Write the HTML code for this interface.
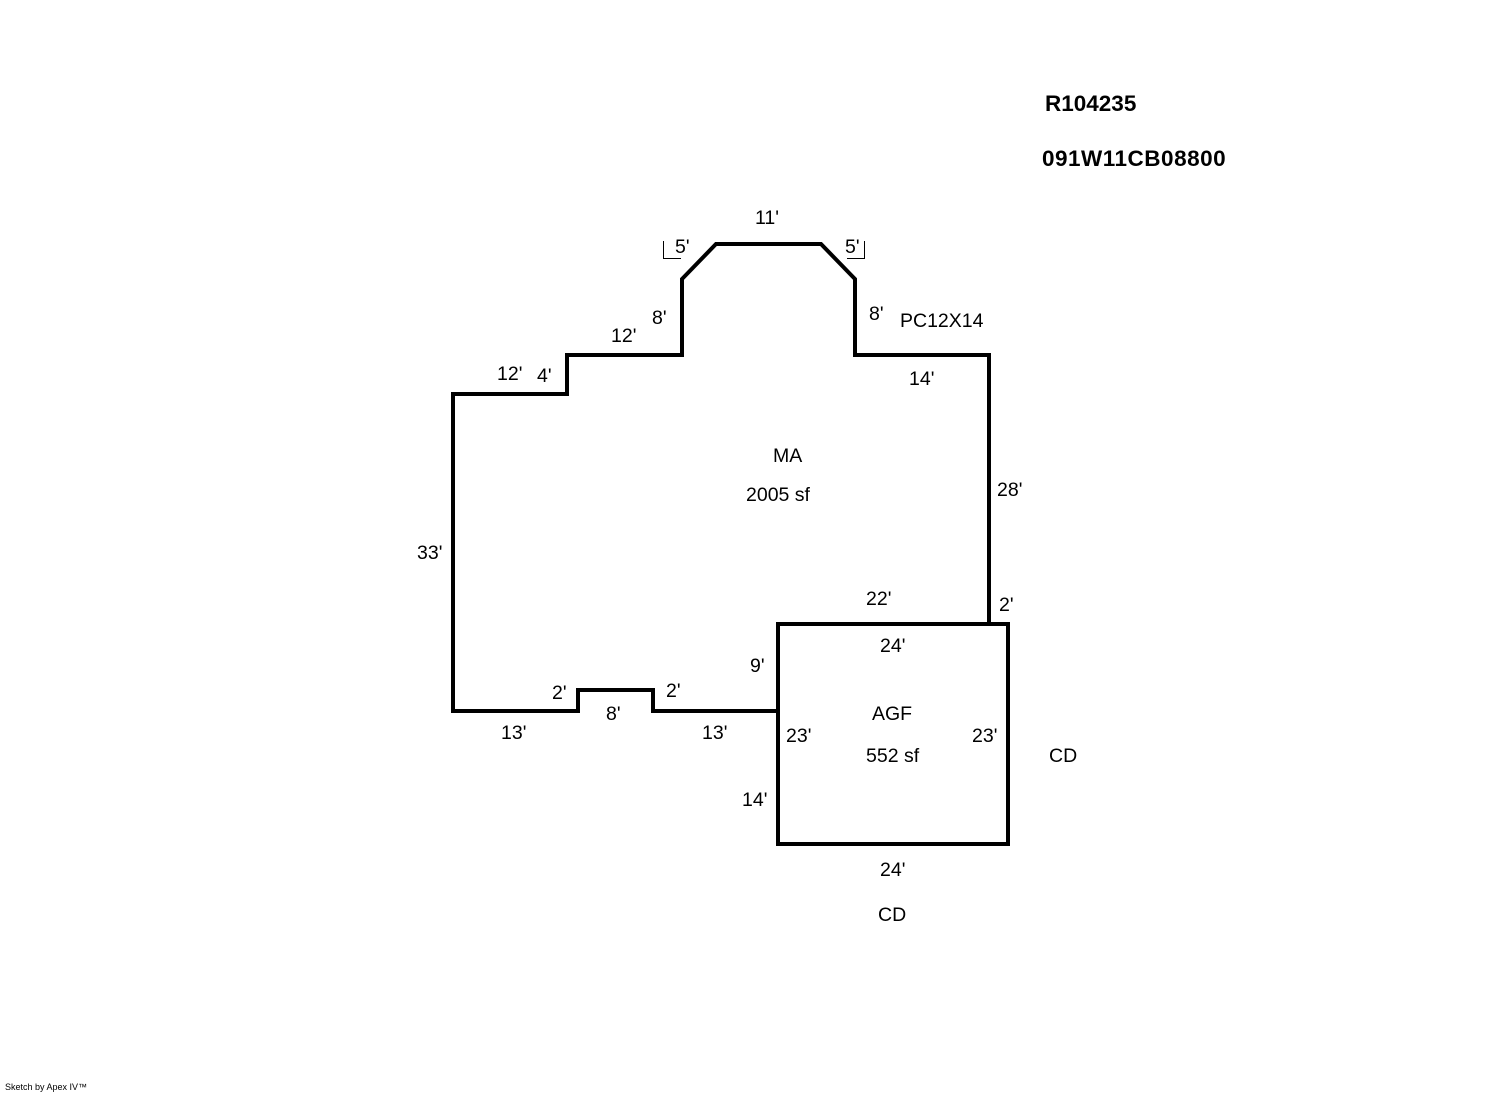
<!DOCTYPE html>
<html><head><style>
body{margin:0;background:#fff}
svg{display:block}
text{font-family:"Liberation Sans",Arial,sans-serif;font-size:19.5px;fill:#000}
</style></head><body>
<svg width="1492" height="1094" xmlns="http://www.w3.org/2000/svg">
<g fill="none" stroke="#000" stroke-width="4" stroke-linejoin="miter">
<polyline points="989,624 989,355 855,355 855,279 821,244 716,244 682,279 682,355 567,355 567,394 453,394 453,711 578,711 578,690 653,690 653,711 778,711"/>
<rect x="778" y="624" width="230" height="220"/>
</g>
<g fill="none" stroke="#000" stroke-width="1">
<polyline points="663.5,241 663.5,258.5 681,258.5"/>
<polyline points="864.5,241 864.5,258.5 847,258.5"/>
</g>
<text x="1045" y="111" font-weight="bold" style="font-size:22.5px">R104235</text>
<text x="1042" y="166" font-weight="bold" style="font-size:22.5px;letter-spacing:0.5px">091W11CB08800</text>
<text x="755" y="224">11'</text>
<text x="675" y="253">5'</text>
<text x="845" y="253">5'</text>
<text x="652" y="324">8'</text>
<text x="869" y="320">8'</text>
<text x="900" y="327">PC12X14</text>
<text x="611" y="342">12'</text>
<text x="497" y="380">12'</text>
<text x="537" y="382">4'</text>
<text x="909" y="385">14'</text>
<text x="773" y="462">MA</text>
<text x="746" y="501">2005 sf</text>
<text x="997" y="496">28'</text>
<text x="417" y="559">33'</text>
<text x="866" y="605">22'</text>
<text x="999" y="611">2'</text>
<text x="880" y="652">24'</text>
<text x="750" y="672">9'</text>
<text x="552" y="699">2'</text>
<text x="666" y="697">2'</text>
<text x="606" y="720">8'</text>
<text x="872" y="720">AGF</text>
<text x="501" y="739">13'</text>
<text x="702" y="739">13'</text>
<text x="786" y="742">23'</text>
<text x="972" y="742">23'</text>
<text x="866" y="762">552 sf</text>
<text x="1049" y="762">CD</text>
<text x="742" y="806">14'</text>
<text x="880" y="876">24'</text>
<text x="878" y="921">CD</text>
<text x="5" y="1090" style="font-size:9px">Sketch by Apex IV™</text>
</svg>
</body></html>
